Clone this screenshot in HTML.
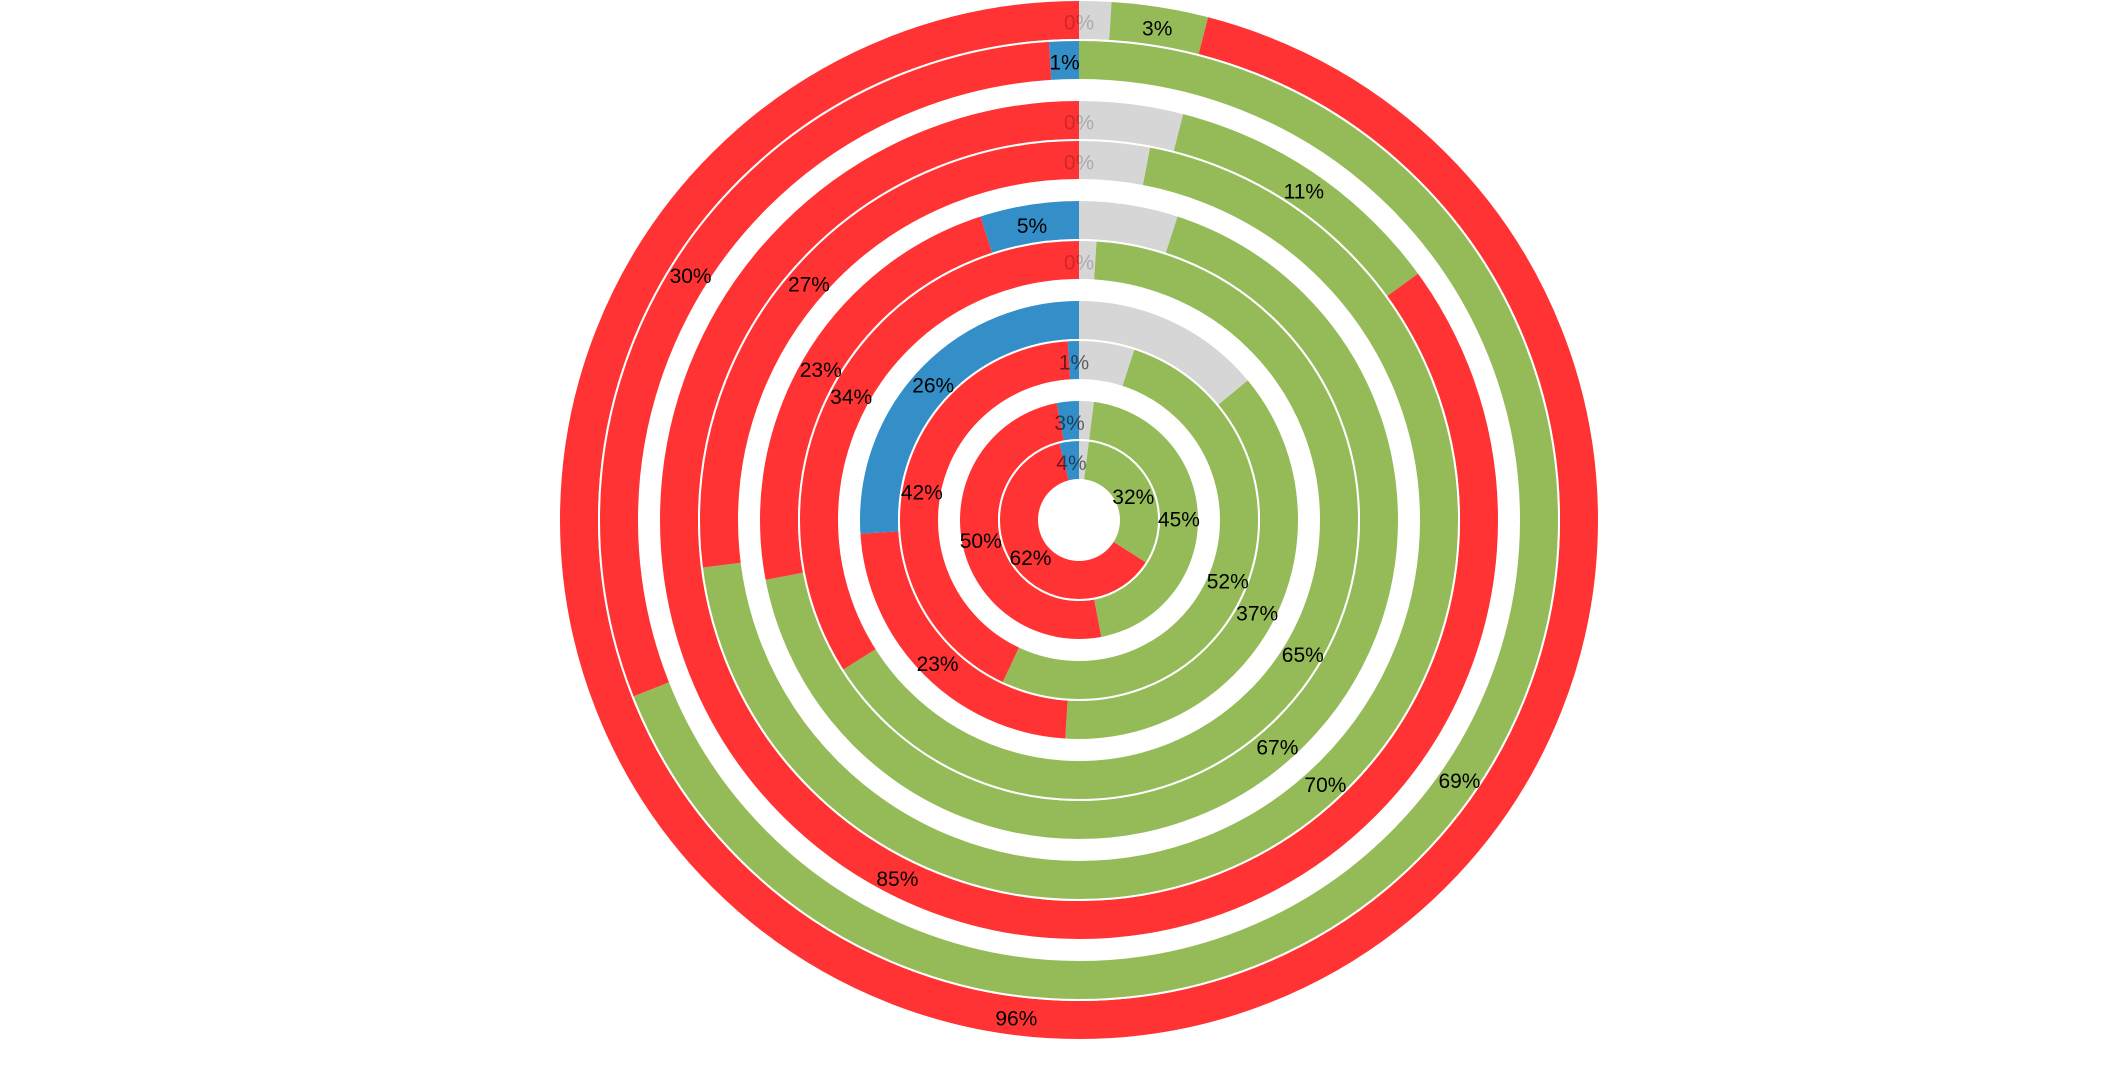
<!DOCTYPE html>
<html><head><meta charset="utf-8"><style>
html,body{margin:0;padding:0;background:#fff;}
svg{display:block;}
text{font-family:"Liberation Sans",Arial,sans-serif;font-size:21px;}
</style></head>
<body>
<svg id="chart" width="2128" height="1075" viewBox="0 0 2128 1075" xmlns="http://www.w3.org/2000/svg">
<g id="rings"></g>
<g id="labels"></g>
</svg>
<script>
// ring values, outermost to innermost (percent)
const ringNames = ["r1","r2","r3","r4","r5","r6","r7","r8","r9","r10"];
const greyVals  = [1, 0, 4, 3, 5, 1, 14, 5, 2, 2];
const greenVals = [3, 69, 11, 70, 67, 65, 37, 52, 45, 32];
const redVals   = [96, 30, 85, 27, 23, 34, 23, 42, 50, 62];
const blueVals  = [0, 1, 0, 0, 5, 0, 26, 1, 3, 4];

const CX = 1079, CY = 520, ROUT = 520, W = 40, GAP = 20;
const colors = {grey:"#D6D6D6", green:"#95BB59", red:"#FF3333", blue:"#348FC9"};
const NS = "http://www.w3.org/2000/svg";
const ringsG = document.getElementById('rings');
const labelsG = document.getElementById('labels');

function ringOuter(i){ const grp = Math.floor(i/2); return ROUT - grp*(2*W+GAP) - (i%2)*W; }
function angle(p){ return p/100*2*Math.PI; }
function pt(r,a){ return [CX + r*Math.sin(a), CY - r*Math.cos(a)]; }
function arcPath(r0,r1,a0,a1){
  const large = (a1-a0) > Math.PI ? 1 : 0;
  const p1=pt(r1,a0), p2=pt(r1,a1), p3=pt(r0,a1), p4=pt(r0,a0);
  return `M${p1[0]},${p1[1]} A${r1},${r1} 0 ${large} 1 ${p2[0]},${p2[1]} L${p3[0]},${p3[1]} A${r0},${r0} 0 ${large} 0 ${p4[0]},${p4[1]} Z`;
}

ringNames.forEach((nm,i)=>{
  const r1 = ringOuter(i), r0 = r1 - W;
  const segs = [["grey",greyVals[i]],["green",greenVals[i]],["red",redVals[i]],["blue",blueVals[i]]];
  const total = segs.reduce((s,d)=>s+d[1],0);
  let acc = 0;
  segs.forEach(([key,v])=>{
    const a0 = angle(acc/total*100), a1 = angle((acc+v)/total*100);
    if(v>0){
      const p = document.createElementNS(NS,'path');
      p.setAttribute('d', arcPath(r0,r1,a0,a1));
      p.setAttribute('fill', colors[key]);
      
      
      ringsG.appendChild(p);
    }
    if(key!=="grey"){
      const am = (a0+a1)/2;
      const lp = pt((r0+r1)/2, am);
      const t = document.createElementNS(NS,'text');
      t.setAttribute('x', lp[0]); t.setAttribute('y', lp[1]+3);
      t.setAttribute('text-anchor','middle');
      t.setAttribute('dominant-baseline','central');
      t.setAttribute('fill','#000');
      if(v===0) t.setAttribute('fill-opacity','0.2');
      else if(i>=7 && v<5) t.setAttribute('fill-opacity','0.55');
      t.textContent = v+'%';
      
      
      labelsG.appendChild(t);
    }
    acc += v;
  });
  [r0,r1].forEach(r=>{
    const c = document.createElementNS(NS,'circle');
    c.setAttribute('cx',CX); c.setAttribute('cy',CY); c.setAttribute('r',r);
    c.setAttribute('fill','none'); c.setAttribute('stroke','#fff'); c.setAttribute('stroke-width','2');
    
    
    ringsG.appendChild(c);
  });
});
</script>
</body></html>
